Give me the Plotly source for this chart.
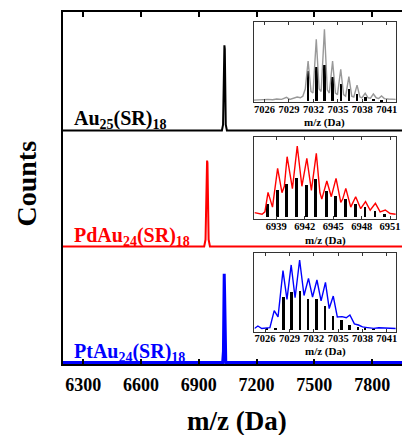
import plotly.graph_objects as go

# ---------------- data ----------------
# main spectra (m/z, relative counts above own baseline)
au_x = [6195, 7020, 7026, 7029, 7031, 7033, 7035, 7037, 7040, 7046, 7955]
au_y = [0, 0, 0.05, 0.5, 0.7, 0.733, 0.7, 0.5, 0.05, 0, 0]
pd_x = [6195, 6928, 6935, 6938, 6941, 6943, 6945, 6948, 6951, 6958, 7955]
pd_y = [0, 0, 0.06, 0.5, 0.72, 0.74, 0.72, 0.5, 0.06, 0, 0]
pt_x = [6195, 7024, 7028, 7030, 7032, 7034, 7036, 7040, 7955]
pt_y = [0, 0, 0.1, 0.6, 0.765, 0.6, 0.1, 0, 0]
baselines = [2, 1, 0]

# inset 1: Au25(SR)18 experimental (gray) and simulated (black sticks)
i1_x = [7024.7, 7025.3, 7025.8, 7026.4, 7027.0, 7027.5, 7028.1, 7028.7, 7029.1, 7029.6,
        7030.0, 7030.4, 7030.7, 7031.0, 7031.35, 7031.7, 7031.95, 7032.35, 7032.7, 7032.95,
        7033.35, 7033.7, 7033.95, 7034.35, 7034.7, 7034.95, 7035.35, 7035.7, 7035.95, 7036.35,
        7036.7, 7036.95, 7037.35, 7037.7, 7037.95, 7038.35, 7038.7, 7039.0, 7039.35, 7039.7,
        7040.0, 7040.35, 7040.7, 7041.2, 7041.6, 7042.1]
i1_y = [0.01, 0.015, 0.01, 0.02, 0.015, 0.025, 0.02, 0.045, 0.02, 0.035,
        0.05, 0.04, 0.06, 0.15, 0.504, 0.12, 0.10, 0.777, 0.15, 0.12,
        0.903, 0.14, 0.10, 0.504, 0.10, 0.08, 0.40, 0.08, 0.06, 0.307,
        0.06, 0.05, 0.20, 0.05, 0.04, 0.097, 0.04, 0.035, 0.088, 0.04,
        0.03, 0.063, 0.03, 0.025, 0.02, 0.02]
s1_x = [7031.35, 7032.35, 7033.35, 7034.35, 7035.35, 7036.35, 7037.35, 7038.35, 7039.35, 7040.35]
s1_y = [0.378, 0.433, 0.454, 0.307, 0.223, 0.151, 0.092, 0.055, 0.034, 0.021]

# inset 2: PdAu24(SR)18 experimental (red) and simulated (black sticks)
i2_x = [6936.7, 6937.1, 6937.5, 6937.8, 6938.13, 6938.6, 6939.14, 6939.6, 6939.85, 6940.14,
        6940.7, 6941.21, 6941.7, 6942.22, 6942.7, 6943.22, 6943.6, 6943.8, 6944.0, 6944.33,
        6944.8, 6945.3, 6945.8, 6946.0, 6946.33, 6946.85, 6947.37, 6947.9, 6948.41, 6948.9,
        6949.45, 6949.95, 6950.49, 6951.0, 6951.6]
i2_y = [0.05, 0.04, 0.03, 0.06, 0.304, 0.12, 0.604, 0.30, 0.38, 0.75,
        0.35, 0.883, 0.38, 0.729, 0.33, 0.792, 0.30, 0.22, 0.30, 0.446,
        0.25, 0.479, 0.18, 0.22, 0.354, 0.12, 0.25, 0.10, 0.1875, 0.08,
        0.167, 0.06, 0.083, 0.04, 0.03]
s2_x = [6938.13, 6939.14, 6940.14, 6941.21, 6942.22, 6943.22, 6944.33, 6945.30, 6946.33,
        6947.37, 6948.41, 6949.45, 6950.49]
s2_y = [0.167, 0.342, 0.417, 0.4875, 0.404, 0.471, 0.32, 0.258, 0.221, 0.167, 0.125, 0.071, 0.042]

# inset 3: PtAu24(SR)18 experimental (blue) and simulated (black sticks)
i3_x = [7024.7, 7025.12, 7025.6, 7026.2, 7026.6, 7027.13, 7027.6, 7028.21, 7028.7, 7029.22,
        7029.7, 7030.26, 7030.8, 7031.35, 7031.85, 7032.39, 7032.9, 7033.44, 7033.9, 7034.4,
        7034.9, 7035.49, 7036.0, 7036.45, 7037.0, 7037.5, 7038.0, 7038.38, 7038.9, 7039.39,
        7040.0, 7041.0, 7042.1]
i3_y = [0.02, 0.052, 0.02, 0.03, 0.03, 0.252, 0.17, 0.774, 0.40, 0.848,
        0.42, 0.913, 0.45, 0.674, 0.43, 0.652, 0.38, 0.622, 0.28, 0.443,
        0.17, 0.174, 0.16, 0.196, 0.08, 0.065, 0.04, 0.035, 0.03, 0.022,
        0.03, 0.025, 0.02]
s3_x = [7026.32, 7027.33, 7028.33, 7029.34, 7030.34, 7031.35, 7032.39, 7033.44, 7034.40,
        7035.49, 7036.45, 7037.50, 7038.38, 7039.39]
s3_y = [0.013, 0.022, 0.422, 0.487, 0.50, 0.40, 0.404, 0.304, 0.174, 0.122, 0.065, 0.035, 0.017, 0.009]

main_ticks = [6300, 6600, 6900, 7200, 7500, 7800]
inset_ticks_au = [7026, 7029, 7032, 7035, 7038, 7041]
inset_ticks_pd = [6939, 6942, 6945, 6948, 6951]

# ---------------- figure ----------------
FONT = "Liberation Serif"
W, H = 407, 435
L, R, T, B = 63, 0, 12, 71
PW, PH = W - L - R, H - T - B

def px_x(p):
    return (p - L) / PW

def px_y(p):
    return (T + PH - p) / PH

fig = go.Figure()

for xs, ys, base, col, w in [(au_x, au_y, baselines[0], "black", 2),
                             (pd_x, pd_y, baselines[1], "#ff0000", 2),
                             (pt_x, pt_y, baselines[2], "#0000ff", 3)]:
    fig.add_trace(go.Scatter(x=xs, y=[v + base for v in ys], mode="lines",
                             line=dict(color=col, width=w), showlegend=False,
                             xaxis="x", yaxis="y"))

insets = [
    (i1_x, i1_y, s1_x, s1_y, "#999999", inset_ticks_au, [7024.7, 7042.1], [-0.017, 1.0],
     (256.7, 400.7, 21.7, 102.3), 122.5),
    (i2_x, i2_y, s2_x, s2_y, "#ff0000", inset_ticks_pd, [6936.7, 6951.6], [-0.029, 1.0],
     (257.3, 400.7, 136.7, 219.0), 240.5),
    (i3_x, i3_y, s3_x, s3_y, "#0000ff", inset_ticks_au, [7024.7, 7042.1], [-0.022, 1.0],
     (257.3, 400.7, 253.3, 331.7), 351.5),
]

layout_axes = {}
for k, (ex, ey, sx, sy, col, tv, xr, yr, box, ty) in enumerate(insets):
    n = k + 2
    xa, ya = f"x{n}", f"y{n}"
    fig.add_trace(go.Bar(x=sx, y=sy, width=0.3, marker=dict(color="black", line=dict(width=0)),
                         showlegend=False, xaxis=xa, yaxis=ya))
    fig.add_trace(go.Scatter(x=ex, y=ey, mode="lines", line=dict(color=col, width=1.4),
                             showlegend=False, xaxis=xa, yaxis=ya))
    x0, x1, y0, y1 = box
    layout_axes[f"xaxis{n}"] = dict(
        domain=[px_x(x0), px_x(x1)], anchor=ya, range=xr, tickvals=tv,
        ticktext=[str(v) for v in tv], tickangle=0,
        showline=True, linecolor="#333333", linewidth=1, mirror="ticks",
        ticks="inside", ticklen=3, tickcolor="#333333", showgrid=False, zeroline=False,
        tickfont=dict(family=FONT, size=10.5, color="black", weight="bold"),
        ticklabelstandoff=-3)
    layout_axes[f"yaxis{n}"] = dict(
        domain=[px_y(y1), px_y(y0)], anchor=xa, range=yr, showticklabels=False,
        showline=True, linecolor="#333333", linewidth=1, mirror=True, ticks="",
        showgrid=False, zeroline=False)
    fig.add_annotation(text="<b>m/z (Da)</b>", xref="paper", yref="paper",
                       x=px_x((x0 + x1) / 2), y=px_y(ty), xanchor="center", yanchor="middle",
                       showarrow=False, font=dict(family=FONT, size=11, color="black"))

fig.update_layout(
    width=W, height=H, margin=dict(l=L, r=R, t=T, b=B),
    paper_bgcolor="white", plot_bgcolor="white", bargap=0,
    xaxis=dict(domain=[0, 1], range=[6195, 7955], tickvals=main_ticks,
               showline=True, linecolor="black", linewidth=2, mirror="ticks",
               ticks="inside", ticklen=5, tickwidth=2, tickcolor="black",
               showgrid=False, zeroline=False, ticklabelstandoff=3,
               tickfont=dict(family=FONT, size=18, color="black", weight="bold")),
    yaxis=dict(domain=[0, 1], range=[-0.012, 3.02], showticklabels=False,
               showline=True, linecolor="black", linewidth=2, ticks="",
               showgrid=False, zeroline=False),
    **layout_axes,
)

ann = [
    dict(text="<b>Au<sub>25</sub>(SR)<sub>18</sub></b>", color="black", y=119),
    dict(text="<b>PdAu<sub>24</sub>(SR)<sub>18</sub></b>", color="#ff0000", y=236),
    dict(text="<b>PtAu<sub>24</sub>(SR)<sub>18</sub></b>", color="#0000ff", y=352),
]
for a in ann:
    fig.add_annotation(text=a["text"], xref="paper", yref="paper", x=px_x(72), y=px_y(a["y"]),
                       xanchor="left", yanchor="middle", showarrow=False,
                       font=dict(family=FONT, size=20, color=a["color"]))

fig.add_annotation(text="<b>m/z (Da)</b>", xref="paper", yref="paper",
                   x=px_x(240), y=px_y(421), xanchor="center", yanchor="middle",
                   showarrow=False, font=dict(family=FONT, size=27, color="black"))
fig.add_annotation(text="<b>Counts</b>", xref="paper", yref="paper",
                   x=px_x(25), y=px_y(184), xanchor="center", yanchor="middle",
                   textangle=-90, showarrow=False,
                   font=dict(family=FONT, size=28, color="black"))

fig.write_html("out.html")
